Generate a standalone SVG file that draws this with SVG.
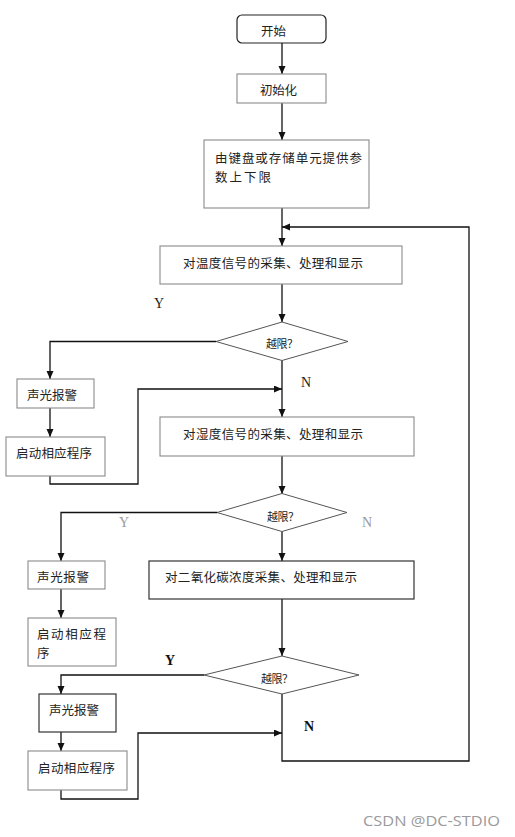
<svg xmlns="http://www.w3.org/2000/svg" width="515" height="837" viewBox="0 0 515 837">
<style>
.bg{fill:#ffffff}
.box{fill:#ffffff;stroke:#8a8a8a;stroke-width:1.1}
.boxd{fill:#ffffff;stroke:#333333;stroke-width:1.2}
.dia{fill:#ffffff;stroke:#555555;stroke-width:1}
.t{font-family:"Noto Sans CJK SC","Noto Sans",sans-serif;font-size:12.5px;fill:#222222;dominant-baseline:central}
.ts{font-family:"Noto Sans CJK SC","Noto Sans",sans-serif;font-size:11px;fill:#222222;dominant-baseline:central}
.yn{font-family:"Liberation Serif",serif;font-size:14px;fill:#222222;dominant-baseline:central}
.yng{font-family:"Liberation Serif",serif;font-size:14px;fill:#999999;dominant-baseline:central}
.ynb{font-family:"Liberation Serif",serif;font-size:14px;font-weight:bold;fill:#111111;dominant-baseline:central}
.c{fill:none;stroke:#111111;stroke-width:1.3}
.wm{font-family:"Open Sans","Noto Sans",sans-serif;font-size:15px;fill:#9a9a9a;dominant-baseline:central}
</style>
<defs>
<marker id="ah" markerWidth="8" markerHeight="8" refX="8" refY="3.5" orient="auto" markerUnits="userSpaceOnUse">
<path d="M0,0 L8,3.5 L0,7 z" fill="#111111"/>
</marker>
</defs>
<rect class="bg" x="0" y="0" width="515" height="837"/>

<g id="connectors">
<path class="c" d="M282,43 V74" marker-end="url(#ah)"/>
<path class="c" d="M282,103 V140" marker-end="url(#ah)"/>
<path class="c" d="M282,208 V246" marker-end="url(#ah)"/>
<path class="c" d="M282,284 V322" marker-end="url(#ah)"/>
<path class="c" d="M216,341.5 H50 V379" marker-end="url(#ah)"/>
<path class="c" d="M50,408 V437" marker-end="url(#ah)"/>
<path class="c" d="M50,476 V484 H138 V389 H282" marker-end="url(#ah)"/>
<path class="c" d="M282,360.5 V417" marker-end="url(#ah)"/>
<path class="c" d="M282,456 V494" marker-end="url(#ah)"/>
<path class="c" d="M217,512.5 H61 V561" marker-end="url(#ah)"/>
<path class="c" d="M282,531.5 V561" marker-end="url(#ah)"/>
<path class="c" d="M61,589 V618" marker-end="url(#ah)"/>
<path class="c" d="M282,599 V656" marker-end="url(#ah)"/>
<path class="c" d="M204,675 H61 V694" marker-end="url(#ah)"/>
<path class="c" d="M61,732 V751" marker-end="url(#ah)"/>
<path class="c" d="M61,790 V799 H138 V733 H282" marker-end="url(#ah)"/>
<path class="c" d="M282,694 V761 H469 V227 H282" marker-end="url(#ah)"/>
</g>

<g id="start">
<rect x="237" y="15" width="89" height="28" rx="5" fill="#ffffff" stroke="#222222" stroke-width="1.2"/>
<text class="t" x="261" y="30" textLength="25" lengthAdjust="spacing">开始</text>
</g>
<g id="init">
<rect class="box" x="237" y="74" width="89" height="29"/>
<text class="t" x="260" y="89" textLength="37" lengthAdjust="spacing">初始化</text>
</g>
<g id="params">
<rect class="box" x="204" y="140" width="165" height="68"/>
<text class="t" x="215" y="157" textLength="147" lengthAdjust="spacing">由键盘或存储单元提供参</text>
<text class="t" x="215" y="176" textLength="56" lengthAdjust="spacing">数上下限</text>
</g>
<g id="temp">
<rect class="box" x="160" y="246" width="242" height="38"/>
<text class="t" x="183" y="262" textLength="180" lengthAdjust="spacing">对温度信号的采集、处理和显示</text>
</g>
<g id="dec1">
<polygon class="dia" points="282,322 348,341.5 282,360.5 216,341.5"/>
<text class="ts" x="266" y="343" textLength="32" lengthAdjust="spacing">越限？</text>
</g>
<g id="alarm1">
<rect class="box" x="17" y="379" width="77" height="29"/>
<text class="t" x="27" y="394" textLength="50" lengthAdjust="spacing">声光报警</text>
</g>
<g id="proc1">
<rect class="box" x="6" y="437" width="99" height="39"/>
<text class="t" x="16" y="452" textLength="76" lengthAdjust="spacing">启动相应程序</text>
</g>
<g id="hum">
<rect class="box" x="160" y="417" width="254" height="39"/>
<text class="t" x="183" y="433" textLength="180" lengthAdjust="spacing">对湿度信号的采集、处理和显示</text>
</g>
<g id="dec2">
<polygon class="dia" points="282,493.5 347,512.5 282,531.5 217,512.5"/>
<text class="ts" x="267" y="516" textLength="32" lengthAdjust="spacing">越限？</text>
</g>
<g id="alarm2">
<rect class="box" x="28" y="561" width="77" height="28"/>
<text class="t" x="37" y="576" textLength="52" lengthAdjust="spacing">声光报警</text>
</g>
<g id="proc2">
<rect class="box" x="28" y="618" width="88" height="48"/>
<text class="t" x="37" y="633" textLength="69" lengthAdjust="spacing">启动相应程</text>
<text class="t" x="37" y="652">序</text>
</g>
<g id="co2">
<rect class="boxd" x="149" y="561" width="265" height="38"/>
<text class="t" x="165" y="576" textLength="192" lengthAdjust="spacing">对二氧化碳浓度采集、处理和显示</text>
</g>
<g id="dec3">
<polygon class="dia" points="282,656 359,675 282,694 204,675"/>
<text class="ts" x="261" y="678" textLength="32" lengthAdjust="spacing">越限？</text>
</g>
<g id="alarm3">
<rect class="boxd" x="39" y="694" width="77" height="38"/>
<text class="t" x="49" y="709" textLength="50" lengthAdjust="spacing">声光报警</text>
</g>
<g id="proc3">
<rect class="box" x="28" y="751" width="99" height="39"/>
<text class="t" x="38" y="767" textLength="77" lengthAdjust="spacing">启动相应程序</text>
</g>

<g id="labels">
<text class="yn" x="159" y="303" text-anchor="middle">Y</text>
<text class="yn" x="306" y="382" text-anchor="middle">N</text>
<text class="yng" x="124" y="522" text-anchor="middle">Y</text>
<text class="yng" x="367" y="522" text-anchor="middle">N</text>
<text class="ynb" x="170" y="660" text-anchor="middle">Y</text>
<text class="ynb" x="309" y="726" text-anchor="middle">N</text>
</g>
<text class="wm" x="363" y="820" textLength="137" lengthAdjust="spacingAndGlyphs">CSDN @DC-STDIO</text>
</svg>
